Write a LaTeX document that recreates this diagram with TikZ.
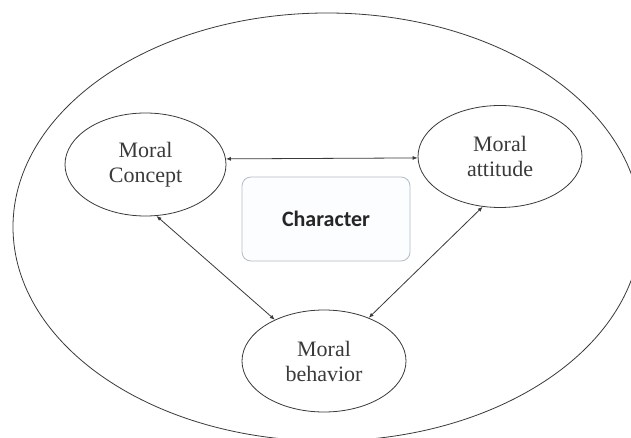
\documentclass[tikz,border=0pt]{standalone}
\usepackage{fontspec}
\setmainfont{Liberation Serif}
\newfontfamily\boxfont{Carlito}
\usetikzlibrary{shapes.geometric,arrows.meta}
\definecolor{inkgray}{HTML}{3A3A3A}
\definecolor{boxline}{HTML}{B4BCC8}
\definecolor{boxfill}{HTML}{FCFDFF}
\tikzset{
  oval/.style={ellipse,draw=inkgray,line width=0.8pt,inner sep=0pt,align=center,
    text=inkgray,font=\fontsize{22}{25}\selectfont},
  link/.style={draw=inkgray,line width=0.8pt,{Latex[length=5pt,width=4pt]}-{Latex[length=5pt,width=4pt]}},
  charbox/.style={rectangle,rounded corners=9pt,draw=boxline,fill=boxfill,line width=0.8pt,
    minimum width=168pt,minimum height=84pt,inner sep=0pt,
    font=\boxfont\bfseries\fontsize{22}{26}\selectfont,text=black!85}
}
\begin{document}
\begin{tikzpicture}[x=1pt,y=-1pt]
\useasboundingbox (0,0) rectangle (631,438);
\fill[white] (0,0) rectangle (631,438);
\node[ellipse,draw=inkgray,line width=0.8pt,minimum width=628pt,minimum height=428pt,inner sep=0pt] (outer) at (327,227) {};
\node[oval,minimum width=161pt,minimum height=103pt] (c) at (145.5,164.5) {Moral\\Concept};
\node[oval,minimum width=164pt,minimum height=102pt] (a) at (500,156.5) {Moral\\attitude};
\node[oval,minimum width=164pt,minimum height=102pt] (b) at (324,361) {Moral\\behavior};
\node[charbox] (ch) at (326,219) {Character};
\draw[link] (c.4) -- (a.181);
\draw[link] (c.-78) -- (b.140);
\draw[link] (a.-109) -- (b.44);
\end{tikzpicture}
\end{document}
